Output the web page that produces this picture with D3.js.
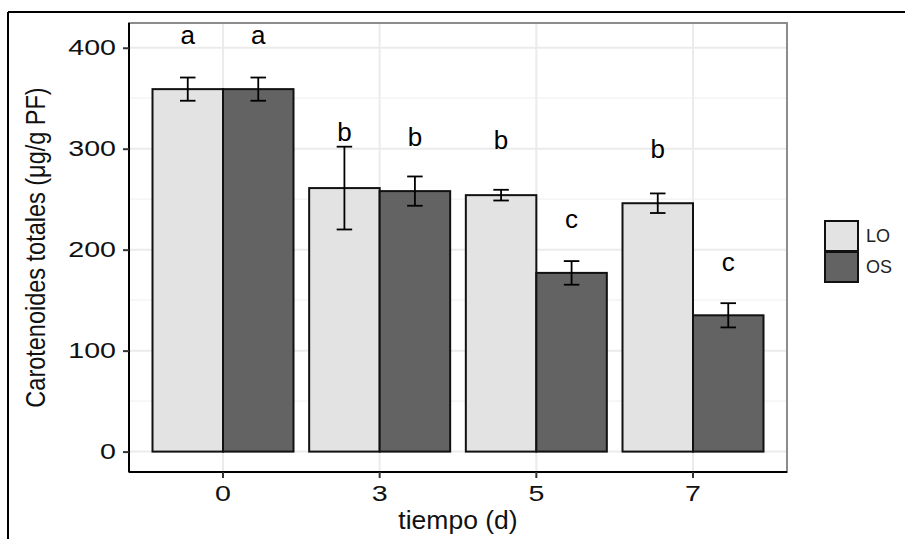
<!DOCTYPE html>
<html>
<head>
<meta charset="utf-8">
<script src="https://cdn.jsdelivr.net/npm/d3@7"></script>
<style>
  body { margin: 0; background: #fff; }
  text { font-family: "Liberation Sans", Arial, sans-serif; }
</style>
</head>
<body>
<svg id="chart" width="905" height="539"></svg>
<script>
// data
var days = ['0', '3', '5', '7'];
var groups = ['LO', 'OS'];
var meanLO = [359, 261, 254, 246];
var meanOS = [359, 258, 177, 135];
var errLO = [11.5, 41, 5.3, 9.7];
var errOS = [11.5, 14.5, 11.7, 12];
var lettersLO = ['a', 'b', 'b', 'b'];
var lettersOS = ['a', 'b', 'c', 'c'];
// height (in data units) of each letter's centre
var letterYLO = [411, 315, 307, 299];
var letterYOS = [411, 310, 229, 187];
var yTicks = [0, 100, 200, 300, 400];
var yMinor = [50, 150, 250, 350];

var fills = { LO: '#e3e3e3', OS: '#636363' };

var svg = d3.select('#chart');

// panel box
var panel = { left: 129, right: 787, top: 23, bottom: 472 };

// the digits in the picture are drawn wider than they are tall
var digitStretch = 1.3;

// rows built from the arrays above
var rows = [];
days.forEach(function(d, i) {
  rows.push({ day: d, group: 'LO', mean: meanLO[i], err: errLO[i], letter: lettersLO[i], ly: letterYLO[i] });
  rows.push({ day: d, group: 'OS', mean: meanOS[i], err: errOS[i], letter: lettersOS[i], ly: letterYOS[i] });
});

// outer frame (only top and left visible)
svg.append('line').attr('x1', 8).attr('x2', 905).attr('y1', 12).attr('y2', 12)
  .attr('stroke', '#000').attr('stroke-width', 2);
svg.append('line').attr('x1', 8).attr('x2', 8).attr('y1', 12).attr('y2', 539)
  .attr('stroke', '#000').attr('stroke-width', 2);

var y = d3.scaleLinear().domain([-20.2, 424.5]).range([panel.bottom, panel.top]);

// discrete x with ggplot-like 0.6 expansion
var step = (panel.right - panel.left) / (days.length - 1 + 1.2);
var x = d3.scalePoint().domain(days)
  .range([panel.left + 0.6 * step, panel.right - 0.6 * step]);
var dodge = d3.scaleBand().domain(groups).range([-0.45 * step, 0.45 * step]);

// grid
var grid = svg.append('g');
grid.selectAll('.minor').data(yMinor).enter().append('line')
  .attr('x1', panel.left).attr('x2', panel.right)
  .attr('y1', function(d) { return y(d); }).attr('y2', function(d) { return y(d); })
  .attr('stroke', '#f2f2f2').attr('stroke-width', 1.2);
grid.selectAll('.major').data(yTicks).enter().append('line')
  .attr('x1', panel.left).attr('x2', panel.right)
  .attr('y1', function(d) { return y(d); }).attr('y2', function(d) { return y(d); })
  .attr('stroke', '#ebebeb').attr('stroke-width', 2);
grid.selectAll('.vmajor').data(days).enter().append('line')
  .attr('y1', panel.top).attr('y2', panel.bottom)
  .attr('x1', function(d) { return x(d); }).attr('x2', function(d) { return x(d); })
  .attr('stroke', '#ebebeb').attr('stroke-width', 2);

// bars
svg.append('g').selectAll('rect').data(rows).enter().append('rect')
  .attr('x', function(d) { return x(d.day) + dodge(d.group); })
  .attr('width', dodge.bandwidth())
  .attr('y', function(d) { return y(d.mean); })
  .attr('height', function(d) { return y(0) - y(d.mean); })
  .attr('fill', function(d) { return fills[d.group]; })
  .attr('stroke', '#111').attr('stroke-width', 2);

// error bars
var capW = dodge.bandwidth() * 0.22;
var eb = svg.append('g').selectAll('g').data(rows).enter().append('g')
  .attr('transform', function(d) {
    return 'translate(' + (x(d.day) + dodge(d.group) + dodge.bandwidth() / 2) + ',0)';
  });
eb.append('line').attr('x1', 0).attr('x2', 0)
  .attr('y1', function(d) { return y(d.mean + d.err); })
  .attr('y2', function(d) { return y(d.mean - d.err); })
  .attr('stroke', '#000').attr('stroke-width', 1.8);
eb.append('line').attr('x1', -capW / 2).attr('x2', capW / 2)
  .attr('y1', function(d) { return y(d.mean + d.err); })
  .attr('y2', function(d) { return y(d.mean + d.err); })
  .attr('stroke', '#000').attr('stroke-width', 1.8);
eb.append('line').attr('x1', -capW / 2).attr('x2', capW / 2)
  .attr('y1', function(d) { return y(d.mean - d.err); })
  .attr('y2', function(d) { return y(d.mean - d.err); })
  .attr('stroke', '#000').attr('stroke-width', 1.8);

// letters
svg.append('g').selectAll('text').data(rows).enter().append('text')
  .attr('x', function(d) { return x(d.day) + dodge(d.group) + dodge.bandwidth() / 2; })
  .attr('y', function(d) { return y(d.ly); })
  .attr('dy', '0.3em')
  .attr('text-anchor', 'middle')
  .attr('font-size', 26)
  .attr('fill', '#000')
  .text(function(d) { return d.letter; });

// panel border: gray top/right, black left/bottom
svg.append('rect')
  .attr('x', panel.left).attr('y', panel.top)
  .attr('width', panel.right - panel.left).attr('height', panel.bottom - panel.top)
  .attr('fill', 'none').attr('stroke', '#8c8c8c').attr('stroke-width', 2);

// axes
var yAxis = svg.append('g')
  .attr('transform', 'translate(' + panel.left + ',0)')
  .call(d3.axisLeft(y).tickValues(yTicks).tickSize(6).tickPadding(6));
var xAxis = svg.append('g')
  .attr('transform', 'translate(0,' + panel.bottom + ')')
  .call(d3.axisBottom(x).tickSize(6).tickPadding(7));
[yAxis, xAxis].forEach(function(ax) {
  ax.select('.domain').attr('stroke', '#000').attr('stroke-width', 2);
  ax.selectAll('.tick line').attr('stroke', '#333').attr('stroke-width', 2);
  ax.selectAll('.tick text').attr('font-size', 22).attr('fill', '#111')
    .style('font-family', '"Liberation Sans", Arial, sans-serif');
});
yAxis.selectAll('.tick text')
  .attr('x', -13 / digitStretch)
  .attr('transform', 'scale(' + digitStretch + ',1)');
xAxis.selectAll('.tick text')
  .attr('transform', 'scale(' + digitStretch + ',1)');
xAxis.selectAll('.tick').attr('transform', function(d) {
  return 'translate(' + x(d) + ',0)';
});
yAxis.select('.domain').attr('d', 'M0,' + panel.top + 'V' + panel.bottom);
xAxis.select('.domain').attr('d', 'M' + panel.left + ',0H' + panel.right);

// axis titles
svg.append('text')
  .attr('transform', 'translate(45,' + ((panel.top + panel.bottom) / 2) + ') scale(1.2,1) rotate(-90)')
  .attr('text-anchor', 'middle')
  .attr('font-size', 23.5)
  .attr('fill', '#111')
  .text('Carotenoides totales (μg/g PF)');
svg.append('text')
  .attr('x', (panel.left + panel.right) / 2)
  .attr('y', 529)
  .attr('text-anchor', 'middle')
  .attr('font-size', 26.5)
  .attr('fill', '#111')
  .text('tiempo (d)');

// legend
var legend = svg.append('g').attr('transform', 'translate(825,221)');
var key = legend.selectAll('g').data(groups).enter().append('g')
  .attr('transform', function(d, i) { return 'translate(0,' + (i * 31) + ')'; });
key.append('rect').attr('width', 33).attr('height', 30)
  .attr('fill', function(d) { return fills[d]; })
  .attr('stroke', '#111').attr('stroke-width', 2);
key.append('text').attr('x', 41).attr('y', 15).attr('dy', '0.35em')
  .attr('font-size', 18).attr('fill', '#222')
  .text(function(d) { return d; });
</script>
</body>
</html>
